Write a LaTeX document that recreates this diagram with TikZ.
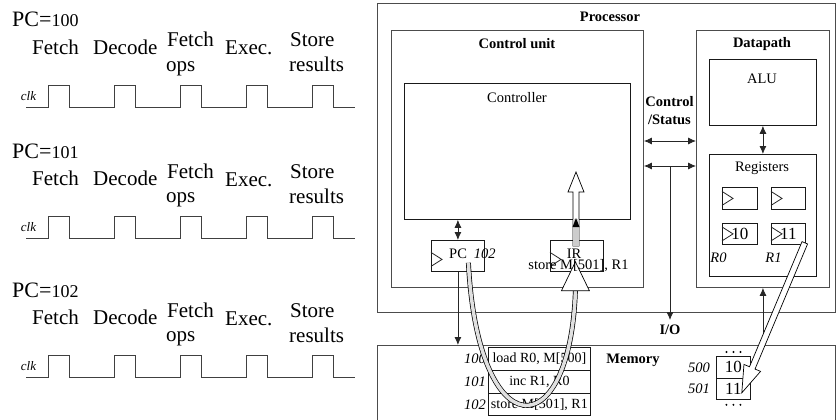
\documentclass[tikz,border=0pt]{standalone}
\usepackage{fontspec}
\setmainfont{Liberation Serif}
\usetikzlibrary{arrows.meta,calc}
\begin{document}
\begin{tikzpicture}[x=1pt,y=-1pt,
 box/.style={draw=black!70, line width=0.9pt, inner sep=0pt, anchor=north west},
 ibox/.style={draw=black!90, line width=0.8pt, inner sep=0pt, anchor=north west},
 lbl/.style={inner sep=0pt, font=\fontsize{14.5}{17}\selectfont},
 lblb/.style={inner sep=0pt, font=\fontsize{14.5}{17}\selectfont\bfseries},
 lbli/.style={inner sep=0pt, font=\fontsize{14.5}{17}\selectfont\itshape},
 tl/.style={inner sep=0pt, anchor=base west, font=\fontsize{21}{24}\selectfont},
 wire/.style={draw=black!85, line width=0.8pt},
 tipend/.style={-{Latex[length=8pt,width=7pt]}},
 tipboth/.style={{Latex[length=8pt,width=7pt]}-{Latex[length=8pt,width=7pt]}},
 clkline/.style={draw=black!75, line width=0.9pt},
 pipe/.style={line width=0.7pt, draw=black, double=black!12, double distance=3.5pt},
 hollow/.style={draw=black, line width=0.7pt, fill=white, line join=miter},
]
\clip (0,0) rectangle (838,420);

% ---------- left: timing diagrams ----------
\foreach \oy/\n in {0/100,131/101,270/102}{
  \node[tl, font=\fontsize{22}{24}\selectfont] (pcl\n) at (12,27+\oy) {PC=\fontsize{18}{20}\selectfont\n};
  \node[tl] (fe\n) at (32,54.5+\oy) {Fetch};
  \node[tl] (de\n) at (93,54.5+\oy) {Decode};
  \node[tl] (fo\n) at (167,47+\oy) {Fetch};
  \node[tl] (op\n) at (166,71.5+\oy) {ops};
  \node[tl] (ex\n) at (225,55+\oy) {Exec.};
  \node[tl] (st\n) at (290,47+\oy) {Store};
  \node[tl] (re\n) at (289,72+\oy) {results};
  \node[inner sep=0pt, anchor=base, font=\fontsize{13}{15}\selectfont\itshape] (clk\n) at (28.5,100+\oy) {clk};
  \draw[clkline] (26,107+\oy) \foreach \x in {48,114,180,246,312}{ -- (\x,107+\oy) -- (\x,85+\oy) -- (\x+21,85+\oy) -- (\x+21,107+\oy)} -- (355,107+\oy);
}

% ---------- right: boxes ----------
\node[box, minimum width=458pt, minimum height=309pt] (proc) at (377,3) {};
\node[box, minimum width=252pt, minimum height=257pt] (cu) at (391,30) {};
\node[ibox, minimum width=226pt, minimum height=136pt] (ctrl) at (404,83) {};
\node[box, minimum width=133pt, minimum height=257pt] (dp) at (696,30) {};
\node[ibox, minimum width=107pt, minimum height=66pt] (alu) at (709,59) {};
\node[ibox, minimum width=107pt, minimum height=122pt] (regs) at (709,154) {};
\node[ibox, minimum width=35pt, minimum height=22pt] (ra) at (722,187) {};
\node[ibox, minimum width=34pt, minimum height=22pt] (rb) at (771,187) {};
\node[ibox, minimum width=35pt, minimum height=21pt, font=\fontsize{17}{19}\selectfont] (r0) at (722,223) {10};
\node[ibox, minimum width=34pt, minimum height=21pt, font=\fontsize{17}{19}\selectfont] (r1) at (771,223) {11};
\node[ibox, minimum width=53pt, minimum height=31pt] (pc) at (431,240) {};
\node[ibox, minimum width=53pt, minimum height=31pt] (ir) at (550,240) {};
\node[box, minimum width=458pt, minimum height=90pt] (mem) at (377,345) {};

% memory table
\node[ibox, minimum width=102pt, minimum height=23pt, font=\fontsize{14}{16}\selectfont] (m100) at (488,347) {load R0, M[500]};
\node[ibox, minimum width=102pt, minimum height=23pt, font=\fontsize{14}{16}\selectfont] (m101) at (488,370) {inc R1, R0};
\node[ibox, minimum width=102pt, minimum height=22pt, font=\fontsize{14}{16}\selectfont] (m102) at (488,393) {store M[501], R1};
\node[lbli, anchor=east] (a100) at ($(m100.west)+(-2,0)$) {100};
\node[lbli, anchor=east] (a101) at ($(m101.west)+(-2,0)$) {101};
\node[lbli, anchor=east] (a102) at ($(m102.west)+(-2,0)$) {102};

% data cells
\node[ibox, minimum width=34pt, minimum height=22pt, font=\fontsize{17}{19}\selectfont] (d500) at (716,356) {10};
\node[ibox, minimum width=34pt, minimum height=21pt, font=\fontsize{17}{19}\selectfont] (d501) at (716,378) {11};
\node[lbli, anchor=east] (a500) at ($(d500.west)+(-6,0)$) {500};
\node[lbli, anchor=east] (a501) at ($(d501.west)+(-6,0)$) {501};
\foreach \dx in {-7,0,7}{
  \fill ($(d500.north)+(\dx,-4)$) circle (1.1pt);
  \fill ($(d501.south)+(\dx,5)$) circle (1.1pt);
}

% labels
\node[lblb] (procl) at (610,17) {Processor};
\node[lblb] (cul) at (517,44) {Control unit};
\node[lbl] (ctrll) at (517,98) {Controller};
\node[lblb] (dpl) at (762,44) {Datapath};
\node[lbl] (alul) at (762,79) {ALU};
\node[lbl] (regl) at (762,168) {Registers};
\node[lbli] (r0l) at (718.5,258) {R0};
\node[lbli] (r1l) at (773.5,258) {R1};
\node[lblb] (csl1) at (669.5,102) {Control};
\node[lblb] (csl2) at (669.5,120) {/Status};
\node[lblb] (iol) at (670,330) {I/O};
\node[lblb] (meml) at (633,360) {Memory};
\node[lbl, anchor=base west] (pct) at (449,258) {PC\hspace{7pt}\textit{102}};

% clock triangles
\foreach \b in {ra,rb,r0,r1}{\draw[wire] ($(\b.west)+(0,-7)$) -- ++(11,7) -- ++(-11,7);}
\foreach \b in {pc,ir}{\draw[wire] ($(\b.west)+(0,-3.5)$) -- ++(11,7) -- ++(-11,7);}

% ---------- connectors ----------
\coordinate (cs1) at (0,141);
\coordinate (cs2) at (0,166);
\draw[wire, tipboth] (cu.east |- cs1) -- (dp.west |- cs1);
\draw[wire, tipboth] (cu.east |- cs2) -- (dp.west |- cs2);
\coordinate (iotop) at (670,166);
\coordinate (ioend) at (670,320);
\draw[wire, tipend] (iotop) -- (ioend);
\draw[wire, tipboth] (alu.south) -- (regs.north);
\draw[wire, tipboth] (pc.north) -- (pc.north |- ctrl.south);
\draw[wire, tipend] (pc.south) -- (pc.south |- mem.north);
\draw[wire, tipend] (dp.south |- mem.north) -- (dp.south);

% IR -> controller hollow arrow
\node[lbl, anchor=base] (irt) at (574,258) {IR};
\draw[hollow] (573,246) -- (573,192) -- (568,192) -- (576,172) -- (584,192) -- (579,192) -- (579,246) -- cycle;
\fill[black!20] (573.4,219) rectangle (578.6,245.6);
\fill (576,218) -- (579.5,227) -- (572.5,227) -- cycle;

% PC -> memory -> IR curved pipe
\coordinate (cvs) at ($(pc.south)+(10.5,-9)$);
\coordinate (cve) at ($(ir.south)+(-1.5,19)$);
\draw[pipe] (cvs) .. controls (478,448) and (570,448) .. (cve);
\draw[hollow] ($(cve)+(-14,0)$) -- ($(cve)+(0,-29)$) -- ($(cve)+(14,0)$) -- cycle;
\node[lbl, anchor=base] (irs) at (578.5,269) {store M[501], R1};

% R1 -> memory 501 hollow arrow
\coordinate (ha) at ($(r1.south east)+(-1,-2)$);
\coordinate (hb) at ($(d501.south east)+(-9,-7)$);
\coordinate (hbase) at ($(hb)!27pt!(ha)$);
\draw[hollow] ($(ha)!3pt!90:(hb)$) -- ($(hbase)!3pt!-90:(ha)$) -- ($(hbase)!9pt!-90:(ha)$) -- (hb) -- ($(hbase)!9pt!90:(ha)$) -- ($(hbase)!3pt!90:(ha)$) -- ($(ha)!3pt!-90:(hb)$) -- cycle;
\end{tikzpicture}
\end{document}
